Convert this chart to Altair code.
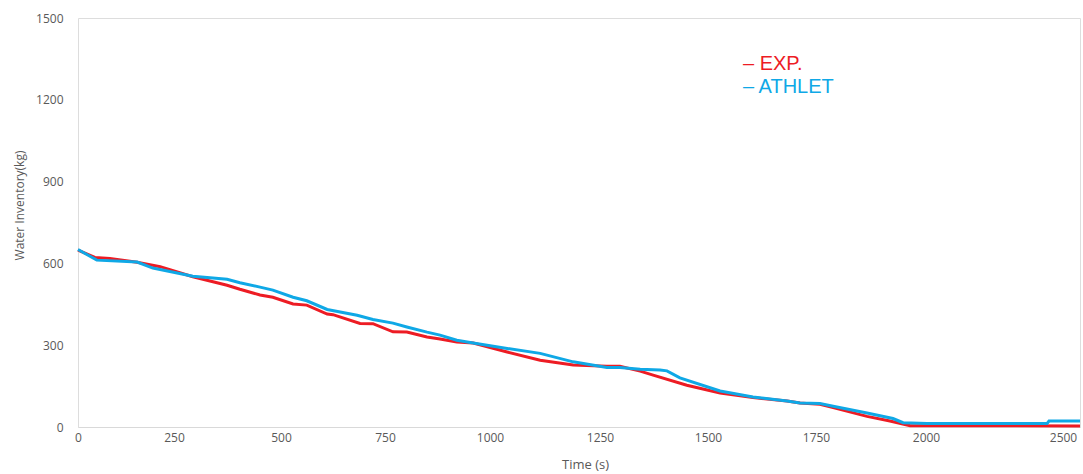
import altair as alt
import pandas as pd

# ---- data ----
exp_t = [0, 44, 83, 154, 214, 294, 374, 404, 451, 481, 529, 562, 611, 625, 690, 721, 769, 802,
         850, 881, 921, 960, 1039, 1114, 1189, 1266, 1296, 1343, 1373, 1451, 1528, 1604, 1683,
         1713, 1759, 1789, 1866, 1918, 1964, 2562]
exp_v = [649, 622, 618, 604, 588, 551, 520, 505, 484, 476, 451, 447, 414, 412, 380, 379, 349, 348,
         330, 323, 312, 308, 275, 245, 227, 223, 223, 205, 190, 153, 125, 108, 95,
         88, 83, 71, 39, 22, 5, 4]

ath_t = [0, 49, 154, 195, 294, 374, 404, 451, 481, 529, 562, 611, 683, 721, 769, 802, 850, 881,
         921, 960, 1039, 1114, 1189, 1266, 1296, 1343, 1389, 1405, 1435, 1528, 1604, 1683, 1713,
         1759, 1789, 1866, 1925, 1948, 2004, 2442, 2449, 2562]
ath_v = [651, 612, 605, 583, 553, 542, 529, 513, 502, 476, 463, 431, 410, 394, 381, 367, 348, 337,
         318, 308, 288, 270, 239, 218, 218, 212, 209, 206, 180, 132, 110, 95, 88,
         86, 76, 51, 31, 16, 13, 13, 22, 22]

series_names = ["EXP.", "ATHLET"]
series_colors = ["#ED1C24", "#0FA8E6"]

x_ticks = [0, 250, 500, 750, 1000, 1250, 1500, 1750, 2000, 2500]
y_ticks = [0, 300, 600, 900, 1200, 1500]

# x axis of the original is not evenly spaced: piecewise positions of its labels
x_domain = [0, 250, 500, 750, 1000, 1250, 1500, 1750, 2000, 2500, 2562]
x_range = [0, 96, 203, 307, 412, 522, 630, 738, 848, 985, 1002]

exp_df = pd.DataFrame({"t": exp_t, "v": exp_v})
ath_df = pd.DataFrame({"t": ath_t, "v": ath_v})

W, H = 1002, 409
GRAY = "#595959"

x_enc = alt.X(
    "t:Q",
    scale=alt.Scale(domain=x_domain, range=x_range),
    axis=alt.Axis(
        values=x_ticks, format="d", title="Time (s)", grid=False, ticks=False,
        labelFlush=False, labelOverlap=False,
        domainColor="#D9D9D9", domainWidth=1.2,
        labelColor=GRAY, labelFont="Open Sans", labelFontSize=12, labelPadding=5,
        titleColor=GRAY, titleFont="Open Sans", titleFontSize=13, titleFontWeight="normal",
        titleX=507, titleY=37, titleBaseline="middle",
    ),
)
y_enc = alt.Y(
    "v:Q",
    scale=alt.Scale(domain=[0, 1500]),
    axis=alt.Axis(
        values=y_ticks, format="d", title="Water Inventory(kg)", grid=False, ticks=False, domain=False,
        labelFlush=False,
        labelColor=GRAY, labelFont="Open Sans", labelFontSize=12, labelPadding=15,
        titleColor=GRAY, titleFont="Open Sans", titleFontSize=12, titleFontWeight="normal",
        titleX=-59, titleY=187, titleBaseline="middle",
    ),
)

red = alt.Chart(exp_df).mark_line(strokeWidth=3, color=series_colors[0]).encode(x=x_enc, y=y_enc)
blue = alt.Chart(ath_df).mark_line(strokeWidth=3, color=series_colors[1]).encode(x=x_enc, y=y_enc)

leg_exp = alt.Chart(pd.DataFrame({"label": ["–  " + series_names[0]]})).mark_text(
    align="left", baseline="middle", font="Liberation Sans", fontSize=20, color=series_colors[0]
).encode(x=alt.value(665), y=alt.value(46), text="label:N")
leg_ath = alt.Chart(pd.DataFrame({"label": ["–  " + series_names[1]]})).mark_text(
    align="left", baseline="middle", font="Liberation Sans", fontSize=20, color=series_colors[1]
).encode(x=alt.value(665), y=alt.value(69), text="label:N")

chart = alt.layer(red, blue, leg_exp, leg_ath).properties(
    width=W, height=H,
    autosize=alt.AutoSizeParams(type="none"),
    padding={"left": 78, "top": 18, "right": 3, "bottom": 47},
).configure_view(stroke=None).configure(background="white")

chart.save("out.html", embed_options={"renderer": "svg", "actions": False})
